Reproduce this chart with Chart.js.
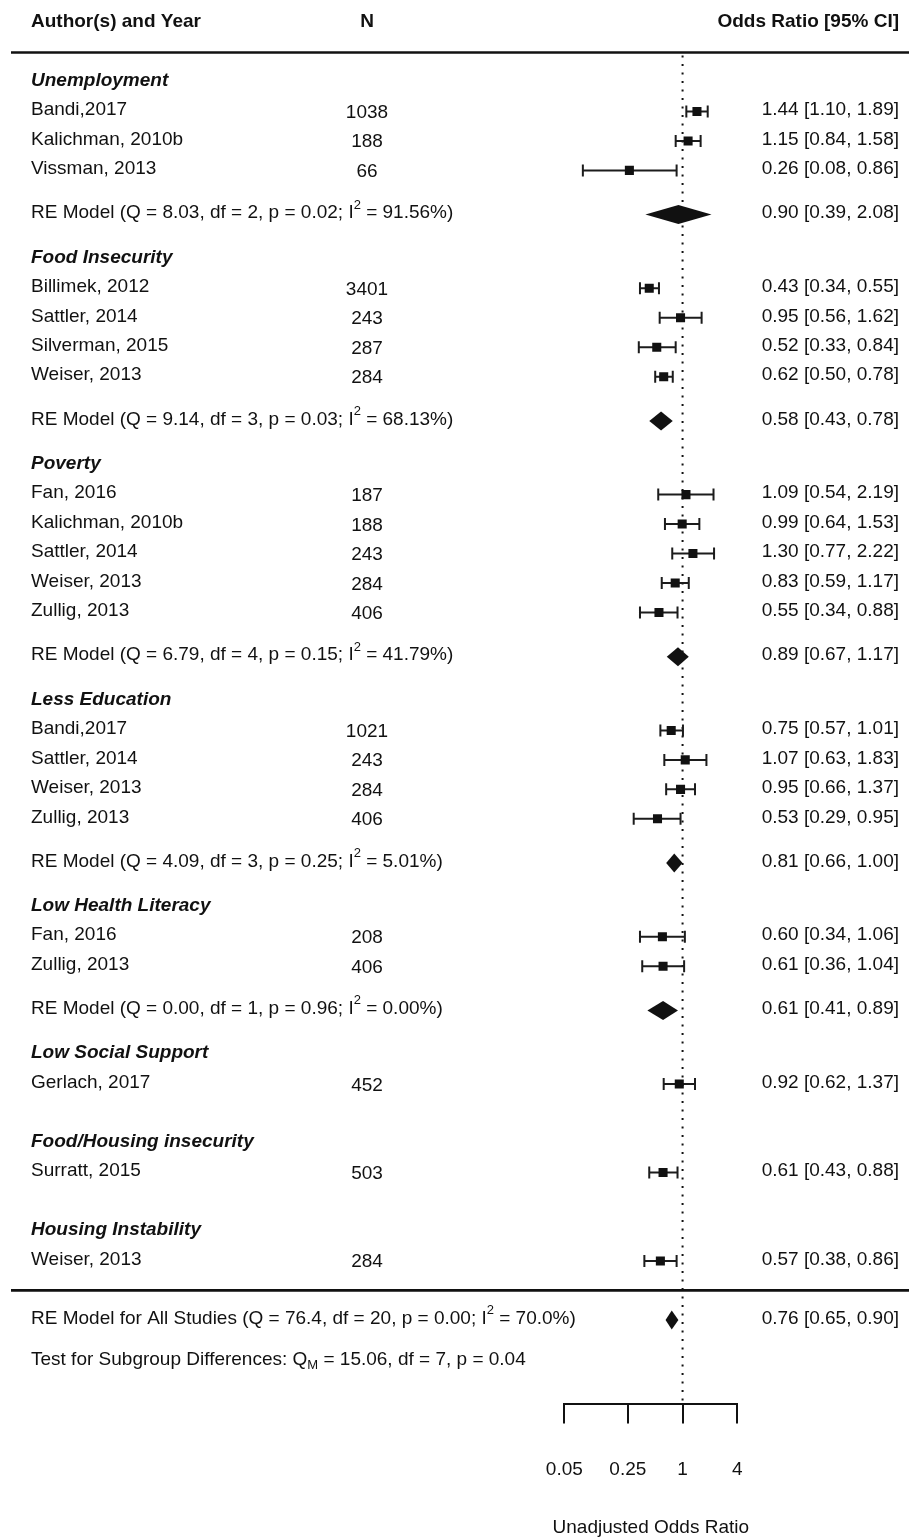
<!DOCTYPE html>
<html>
<head>
<meta charset="utf-8">
<script src="https://cdn.jsdelivr.net/npm/chart.js@4.4.1/dist/chart.umd.min.js"></script>
<style>
  html, body { margin: 0; padding: 0; background: #fff; }
  canvas { display: block; }
</style>
</head>
<body>
<canvas id="forest" width="909" height="1539"></canvas>
<script>
// subgroup headings and the row each one sits on
const groupNames = ['Unemployment', 'Food Insecurity', 'Poverty', 'Less Education',
  'Low Health Literacy', 'Low Social Support', 'Food/Housing insecurity', 'Housing Instability'];
const groupRows = [0, 6, 13, 21, 28, 33, 36, 39];

// single studies
const studyNames = [
  'Bandi,2017', 'Kalichman, 2010b', 'Vissman, 2013',
  'Billimek, 2012', 'Sattler, 2014', 'Silverman, 2015', 'Weiser, 2013',
  'Fan, 2016', 'Kalichman, 2010b', 'Sattler, 2014', 'Weiser, 2013', 'Zullig, 2013',
  'Bandi,2017', 'Sattler, 2014', 'Weiser, 2013', 'Zullig, 2013',
  'Fan, 2016', 'Zullig, 2013',
  'Gerlach, 2017',
  'Surratt, 2015',
  'Weiser, 2013'
];
const studyN = [1038, 188, 66, 3401, 243, 287, 284, 187, 188, 243, 284, 406,
  1021, 243, 284, 406, 208, 406, 452, 503, 284];
const studyOR = [1.44, 1.15, 0.26, 0.43, 0.95, 0.52, 0.62, 1.09, 0.99, 1.30, 0.83, 0.55,
  0.75, 1.07, 0.95, 0.53, 0.60, 0.61, 0.92, 0.61, 0.57];
const studyLo = [1.10, 0.84, 0.08, 0.34, 0.56, 0.33, 0.50, 0.54, 0.64, 0.77, 0.59, 0.34,
  0.57, 0.63, 0.66, 0.29, 0.34, 0.36, 0.62, 0.43, 0.38];
const studyHi = [1.89, 1.58, 0.86, 0.55, 1.62, 0.84, 0.78, 2.19, 1.53, 2.22, 1.17, 0.88,
  1.01, 1.83, 1.37, 0.95, 1.06, 1.04, 1.37, 0.88, 0.86];
const studyRows = [1, 2, 3, 7, 8, 9, 10, 14, 15, 16, 17, 18, 22, 23, 24, 25, 29, 30, 34, 37, 40];

// random-effects model per subgroup
const reQ = [8.03, 9.14, 6.79, 4.09, 0.00];
const reDf = [2, 3, 4, 3, 1];
const reP = [0.02, 0.03, 0.15, 0.25, 0.96];
const reI2 = [91.56, 68.13, 41.79, 5.01, 0.00];
const reOR = [0.90, 0.58, 0.89, 0.81, 0.61];
const reLo = [0.39, 0.43, 0.67, 0.66, 0.41];
const reHi = [2.08, 0.78, 1.17, 1.00, 0.89];
const reRows = [4.5, 11.5, 19.5, 26.5, 31.5];

// overall model and subgroup test
const allQ = 76.4, allDf = 20, allP = 0.00, allI2 = 70.0;
const allOR = 0.76, allLo = 0.65, allHi = 0.90, allRow = 42;
const testQM = 15.06, testDf = 7, testP = 0.04, testRow = 43.4;

const headerRow = -2;
const ruleRows = [-1, 41];
const xTicks = [0.05, 0.25, 1, 4];
const xTitle = 'Unadjusted Odds Ratio';

const FONT = '"Liberation Sans", Arial, sans-serif';
const INK = '#111';
const SIZE = 19;

const colLabel = 31;
const colN = 367;
const colVal = 899;

function ciText(or, lo, hi) {
  return or.toFixed(2) + ' [' + lo.toFixed(2) + ', ' + hi.toFixed(2) + ']';
}

// draws a line made of pieces, some raised (sup) or lowered (sub)
function drawRich(ctx, parts, x, y, align) {
  const main = SIZE + 'px ' + FONT;
  const small = '13px ' + FONT;
  let total = 0;
  parts.forEach(p => {
    ctx.font = p[1] === 'n' ? main : small;
    total += ctx.measureText(p[0]).width;
  });
  let cx = align === 'right' ? x - total : x;
  ctx.textAlign = 'left';
  parts.forEach(p => {
    ctx.font = p[1] === 'n' ? main : small;
    const dy = p[1] === 'sup' ? -8 : (p[1] === 'sub' ? 6 : 0);
    ctx.fillText(p[0], cx, y + dy);
    cx += ctx.measureText(p[0]).width;
  });
}

const forestPlugin = {
  id: 'forest',
  beforeDatasetsDraw(chart) {
    const ctx = chart.ctx;
    const xs = chart.scales.x;
    const ys = chart.scales.y;
    const area = chart.chartArea;
    const X = v => xs.getPixelForValue(v);
    const Y = r => ys.getPixelForValue(r);

    ctx.save();
    ctx.fillStyle = INK;
    ctx.strokeStyle = INK;
    ctx.textBaseline = 'middle';

    // header
    ctx.font = 'bold ' + SIZE + 'px ' + FONT;
    ctx.textAlign = 'left';
    ctx.fillText('Author(s) and Year', colLabel, Y(headerRow) - 1);
    ctx.textAlign = 'center';
    ctx.fillText('N', colN, Y(headerRow) - 1);
    ctx.textAlign = 'right';
    ctx.fillText('Odds Ratio [95% CI]', colVal, Y(headerRow) - 1);

    // horizontal rules
    ctx.lineWidth = 2.7;
    ruleRows.forEach(r => {
      ctx.beginPath();
      ctx.moveTo(11, Y(r));
      ctx.lineTo(chart.width, Y(r));
      ctx.stroke();
    });

    // dotted reference line at OR = 1
    ctx.lineWidth = 2;
    ctx.setLineDash([2, 6.5]);
    ctx.beginPath();
    ctx.moveTo(X(1), area.top + 3);
    ctx.lineTo(X(1), area.bottom);
    ctx.stroke();
    ctx.setLineDash([]);

    // subgroup headings
    ctx.font = 'italic bold ' + SIZE + 'px ' + FONT;
    ctx.textAlign = 'left';
    groupNames.forEach((g, i) => ctx.fillText(g, colLabel, Y(groupRows[i]) - 1.5));

    // study rows: text and whiskers
    studyNames.forEach((s, i) => {
      const y = Y(studyRows[i]);
      ctx.font = SIZE + 'px ' + FONT;
      ctx.textAlign = 'left';
      ctx.fillText(s, colLabel, y - 1.5);
      ctx.textAlign = 'center';
      ctx.fillText(String(studyN[i]), colN, y + 1.3);
      ctx.textAlign = 'right';
      ctx.fillText(ciText(studyOR[i], studyLo[i], studyHi[i]), colVal, y - 1.5);

      const x0 = X(studyLo[i]), x1 = X(studyHi[i]);
      ctx.strokeStyle = '#1c1c1c';
      ctx.lineWidth = 2;
      ctx.beginPath();
      ctx.moveTo(x0, y); ctx.lineTo(x1, y);
      ctx.moveTo(x0, y - 6); ctx.lineTo(x0, y + 6);
      ctx.moveTo(x1, y - 6); ctx.lineTo(x1, y + 6);
      ctx.stroke();
    });

    // diamonds
    const diamond = (or, lo, hi, row) => {
      const y = Y(row);
      ctx.beginPath();
      ctx.moveTo(X(lo), y);
      ctx.lineTo(X(or), y - 9.5);
      ctx.lineTo(X(hi), y);
      ctx.lineTo(X(or), y + 9.5);
      ctx.closePath();
      ctx.fill();
    };

    ctx.fillStyle = INK;
    reOR.forEach((or, i) => {
      const y = Y(reRows[i]);
      diamond(or, reLo[i], reHi[i], reRows[i]);
      drawRich(ctx, [
        ['RE Model (Q = ' + reQ[i].toFixed(2) + ', df = ' + reDf[i] + ', p = ' + reP[i].toFixed(2) + '; I', 'n'],
        ['2', 'sup'],
        [' = ' + reI2[i].toFixed(2) + '%)', 'n']
      ], colLabel, y - 1.5, 'left');
      ctx.font = SIZE + 'px ' + FONT;
      ctx.textAlign = 'right';
      ctx.fillText(ciText(or, reLo[i], reHi[i]), colVal, y - 1.5);
    });

    // overall model
    diamond(allOR, allLo, allHi, allRow);
    drawRich(ctx, [
      ['RE Model for All Studies (Q = ' + allQ.toFixed(1) + ', df = ' + allDf + ', p = ' + allP.toFixed(2) + '; I', 'n'],
      ['2', 'sup'],
      [' = ' + allI2.toFixed(1) + '%)', 'n']
    ], colLabel, Y(allRow) - 1.5, 'left');
    ctx.font = SIZE + 'px ' + FONT;
    ctx.textAlign = 'right';
    ctx.fillText(ciText(allOR, allLo, allHi), colVal, Y(allRow) - 1.5);

    drawRich(ctx, [
      ['Test for Subgroup Differences: Q', 'n'],
      ['M', 'sub'],
      [' = ' + testQM.toFixed(2) + ', df = ' + testDf + ', p = ' + testP.toFixed(2), 'n']
    ], colLabel, Y(testRow) - 1.5, 'left');

    // axis title (drawn here so it is not squeezed to the axis width)
    ctx.font = SIZE + 'px ' + FONT;
    ctx.textAlign = 'center';
    ctx.fillText(xTitle, (area.left + area.right) / 2, 1528);

    ctx.restore();
  }
};

new Chart(document.getElementById('forest').getContext('2d'), {
  type: 'scatter',
  data: {
    datasets: [{
      label: 'Studies',
      data: studyOR.map((v, i) => ({ x: v, y: studyRows[i] })),
      pointStyle: 'rect',
      pointRadius: 6.4,
      pointHoverRadius: 6.4,
      backgroundColor: INK,
      borderWidth: 0
    }]
  },
  options: {
    responsive: false,
    animation: false,
    events: [],
    layout: { padding: { left: 564.3, right: 171.7, top: 52.5, bottom: 23.4 } },
    plugins: {
      legend: { display: false },
      tooltip: { enabled: false }
    },
    scales: {
      x: {
        type: 'logarithmic',
        min: 0.05,
        max: 4,
        afterBuildTicks: scale => { scale.ticks = xTicks.map(v => ({ value: v })); },
        grid: { drawOnChartArea: false, drawTicks: true, tickLength: 20, lineWidth: 2, color: INK },
        border: { display: true, width: 2, color: INK },
        ticks: {
          autoSkip: false,
          maxRotation: 0,
          padding: 34.6,
          color: INK,
          font: { family: FONT, size: SIZE },
          callback: v => String(v)
        },
        title: { display: false }
      },
      y: {
        type: 'linear',
        min: -1,
        max: 44.84,
        reverse: true,
        display: false
      }
    }
  },
  plugins: [forestPlugin]
});
</script>
</body>
</html>
